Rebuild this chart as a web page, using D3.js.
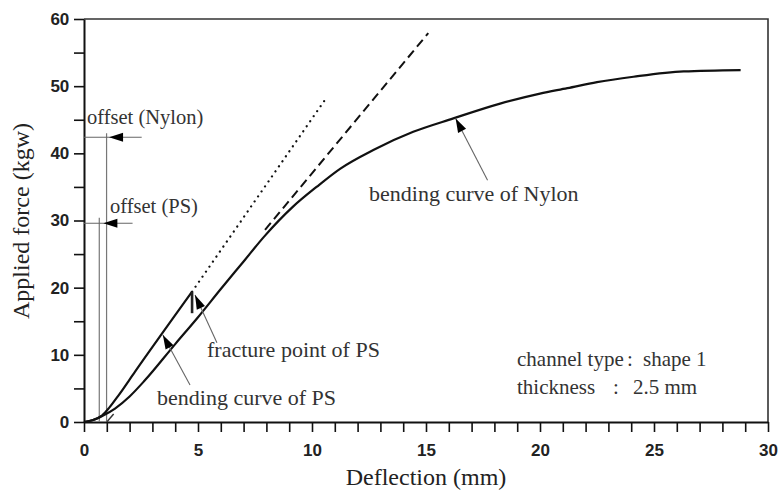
<!DOCTYPE html>
<html>
<head>
<meta charset="utf-8">
<script src="https://cdn.jsdelivr.net/npm/d3@7"></script>
<style>
  body { margin: 0; background: #fff; }
  svg { display: block; }
  .tick text { font-family: "Liberation Sans", Arial, sans-serif; }
</style>
</head>
<body>
<svg id="chart" width="778" height="491"></svg>
<script>
// curve data (deflection mm, force kgw)
const psCurve = [
  [0, 0], [0.4, 0.3], [0.8, 1.0], [1.1, 2.1], [1.5, 3.9], [2.24, 7.5], [4.74, 19.4]
];
const psFracture = [[4.74, 19.4], [4.74, 16.2]];
const psFit = [[4.74, 19.4], [10.66, 48.4]];

const nylonCurve = [
  [0, 0], [0.4, 0.3], [0.8, 0.9], [1.36, 2.0], [2, 3.8], [2.67, 6.2], [4, 11.6],
  [5, 15.6], [6, 19.8], [7, 23.9], [7.9, 27.6], [9.18, 32.1], [10.2, 35.0],
  [11.23, 37.7], [12.69, 40.5], [14.44, 43.2], [16.2, 45.2], [18.25, 47.4],
  [20, 48.9], [21.2, 49.7], [22.5, 50.6], [24.1, 51.4], [26.3, 52.2], [28.8, 52.4]
];
const nylonFit = [[7.94, 28.6], [15.1, 57.9]];
const nylonFitStub = [[1.0, 0], [1.3, 1.2]];

// offset markers: x position of vertical, height of arrow
const offsetPS = { x: 0.67, top: 30.4, arrowY: 29.6, arrowEnd: 2.13, tip: 0.85 };
const offsetNylon = { x: 0.99, top: 43.0, arrowY: 42.4, arrowEnd: 2.53, tip: 1.1 };

const xTicks = d3.range(0, 31, 1);
const yTicks = d3.range(0, 61, 5);

const svg = d3.select("#chart");
const x = d3.scaleLinear().domain([0, 30]).range([84, 768]);
const y = d3.scaleLinear().domain([0, 60]).range([422, 19]);

const serif = "'Liberation Serif', 'Times New Roman', serif";

// frame (top and right)
svg.append("path")
  .attr("d", `M${x(0)},${y(60)}H${x(30)}V${y(0)}`)
  .attr("fill", "none").attr("stroke", "#333").attr("stroke-width", 1.6);

// axes
const xAxis = d3.axisBottom(x).tickValues(xTicks).tickSize(10).tickSizeOuter(0)
  .tickFormat((d) => (d % 5 === 0 ? d : ""));
const yAxis = d3.axisLeft(y).tickValues(yTicks).tickSize(10).tickSizeOuter(0)
  .tickFormat((d) => (d % 10 === 0 ? d : ""));

const gx = svg.append("g").attr("transform", `translate(0,${y(0)})`).call(xAxis);
const gy = svg.append("g").attr("transform", `translate(${x(0)},0)`).call(yAxis);
[gx, gy].forEach((g) => {
  g.select(".domain").attr("stroke", "#111").attr("stroke-width", 2);
  g.selectAll(".tick line").attr("stroke", "#111").attr("stroke-width", 1.6);
  g.selectAll(".tick text").attr("font-size", 17).attr("font-weight", "bold").attr("fill", "#222");
});
gx.selectAll(".tick text").attr("dy", "1.25em");
gy.selectAll(".tick text").attr("dx", "-0.1em");

// axis titles
svg.append("text")
  .attr("x", x(15)).attr("y", 485)
  .attr("text-anchor", "middle")
  .attr("font-family", serif).attr("font-size", 24).attr("fill", "#222")
  .text("Deflection (mm)");
svg.append("text")
  .attr("transform", `translate(29,221) rotate(-90)`)
  .attr("text-anchor", "middle")
  .attr("font-family", serif).attr("font-size", 24).attr("fill", "#222")
  .text("Applied force (kgw)");

const line = d3.line().x((d) => x(d[0])).y((d) => y(d[1]));
const smooth = d3.line().x((d) => x(d[0])).y((d) => y(d[1])).curve(d3.curveMonotoneX);

// offset verticals
[offsetPS, offsetNylon].forEach((o) => {
  svg.append("path")
    .attr("d", line([[o.x, o.top], [o.x, 0]]))
    .attr("stroke", "#777").attr("stroke-width", 1.2).attr("fill", "none");
});

// fit lines
svg.append("path").attr("d", line(psFit))
  .attr("stroke", "#111").attr("stroke-width", 2.2).attr("fill", "none")
  .attr("stroke-dasharray", "0.1,6").attr("stroke-linecap", "round");
svg.append("path").attr("d", line(nylonFit))
  .attr("stroke", "#111").attr("stroke-width", 2).attr("fill", "none")
  .attr("stroke-dasharray", "9,5");
svg.append("path").attr("d", line(nylonFitStub))
  .attr("stroke", "#333").attr("stroke-width", 1.4).attr("fill", "none");

// curves
svg.append("path").attr("d", smooth(nylonCurve))
  .attr("stroke", "#111").attr("stroke-width", 2.2).attr("fill", "none");
svg.append("path").attr("d", smooth(psCurve))
  .attr("stroke", "#111").attr("stroke-width", 2.2).attr("fill", "none");
svg.append("path").attr("d", line(psFracture))
  .attr("stroke", "#222").attr("stroke-width", 2.6).attr("fill", "none");

// arrowheads
function arrowHead(tip, from, len = 14, half = 4.5) {
  const tx = x(tip[0]), ty = y(tip[1]);
  const fx = x(from[0]), fy = y(from[1]);
  const a = Math.atan2(ty - fy, tx - fx);
  const bx = tx - len * Math.cos(a), by = ty - len * Math.sin(a);
  const nx = -Math.sin(a) * half, ny = Math.cos(a) * half;
  svg.append("path")
    .attr("d", `M${tx},${ty}L${bx + nx},${by + ny}L${bx - nx},${by - ny}Z`)
    .attr("fill", "#000");
}
function arrow(tail, tip) {
  svg.append("path").attr("d", line([tail, tip]))
    .attr("stroke", "#666").attr("stroke-width", 1.1).attr("fill", "none");
  arrowHead(tip, tail);
}

arrow([5.83, 11.8], [4.87, 18.9]);   // fracture point of PS
arrow([4.65, 5.5], [3.46, 12.95]);   // bending curve of PS
arrow([17.7, 36.0], [16.3, 45.2]);   // bending curve of Nylon

[offsetPS, offsetNylon].forEach((o) => {
  svg.append("path").attr("d", line([[0, o.arrowY], [o.arrowEnd, o.arrowY]]))
    .attr("stroke", "#666").attr("stroke-width", 1.1).attr("fill", "none");
  arrowHead([o.tip, o.arrowY], [o.arrowEnd, o.arrowY], 14, 4.5);
});

// annotation text
const notes = [
  { t: "offset (Nylon)", px: 87, py: 124, fs: 20.5 },
  { t: "offset (PS)", px: 110, py: 213, fs: 20.5 },
  { t: "bending curve of Nylon", px: 369, py: 201, fs: 22 },
  { t: "fracture point of PS", px: 207, py: 357, fs: 22 },
  { t: "bending curve of PS", px: 157, py: 405, fs: 22 },
  { t: "channel type", px: 517, py: 366, fs: 21 },
  { t: ":", px: 630, py: 366, fs: 21, a: "middle" },
  { t: "shape 1", px: 643, py: 366, fs: 21 },
  { t: "thickness", px: 517, py: 394, fs: 21 },
  { t: ":", px: 616, py: 394, fs: 21, a: "middle" },
  { t: "2.5 mm", px: 633, py: 394, fs: 21 }
];
svg.selectAll("text.note").data(notes).join("text")
  .attr("class", "note")
  .attr("x", (d) => d.px).attr("y", (d) => d.py)
  .attr("text-anchor", (d) => d.a || "start")
  .attr("font-family", serif).attr("font-size", (d) => d.fs).attr("fill", "#333")
  .text((d) => d.t);
</script>
</body>
</html>
